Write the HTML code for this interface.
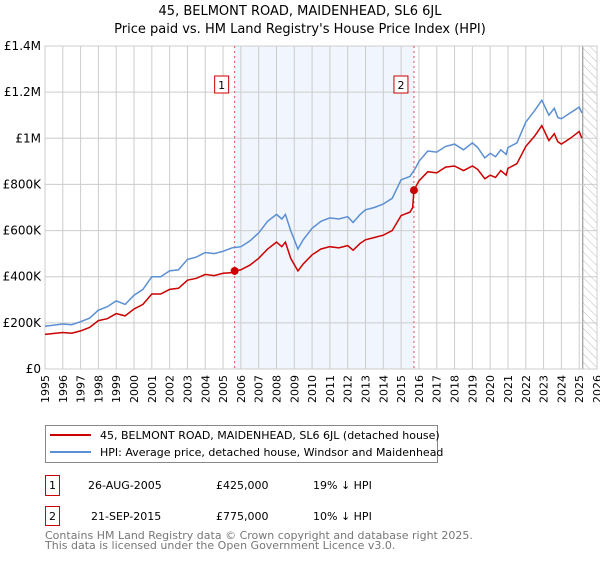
<!DOCTYPE html>
<html><head><meta charset="utf-8"><style>
body{margin:0;background:#fff;font-family:"Liberation Sans","DejaVu Sans",sans-serif;}
svg text{font-family:"DejaVu Sans","Liberation Sans",sans-serif;}
</style></head><body>
<svg id="c" width="600" height="560" viewBox="0 0 600 560">
<defs><pattern id="hatch" width="6" height="6" patternUnits="userSpaceOnUse" patternTransform="rotate(-45)"><line x1="0" y1="0" x2="0" y2="6" stroke="#bbb" stroke-width="1"/></pattern></defs>
<text x="300" y="15" text-anchor="middle" font-size="13">45, BELMONT ROAD, MAIDENHEAD, SL6 6JL</text>
<text x="300" y="33" text-anchor="middle" font-size="13">Price paid vs. HM Land Registry's House Price Index (HPI)</text>
<g id="plot"></g>
<g>
<rect x="45.5" y="425.5" width="392" height="37" fill="#fff" stroke="#888"/>
<line x1="50" y1="435" x2="91" y2="435" stroke="#cc0000" stroke-width="2"/>
<text x="100" y="439" font-size="11">45, BELMONT ROAD, MAIDENHEAD, SL6 6JL (detached house)</text>
<line x1="50" y1="452" x2="91" y2="452" stroke="#5b8fd4" stroke-width="2"/>
<text x="100" y="456" font-size="11">HPI: Average price, detached house, Windsor and Maidenhead</text>
</g>
<g font-size="11">
<rect x="45.5" y="475.5" width="14" height="20" fill="#fff" stroke="#cc0000"/><text x="52.5" y="489" text-anchor="middle">1</text>
<text x="88" y="489">26-AUG-2005</text><text x="216" y="489">£425,000</text><text x="313" y="489">19% ↓ HPI</text>
<rect x="45.5" y="506.5" width="14" height="19" fill="#fff" stroke="#cc0000"/><text x="52.5" y="520" text-anchor="middle">2</text>
<text x="91" y="520">21-SEP-2015</text><text x="216" y="520">£775,000</text><text x="313" y="520">10% ↓ HPI</text>
</g>
<text x="45" y="539" font-size="11" fill="#777">Contains HM Land Registry data © Crown copyright and database right 2025.</text>
<text x="45" y="549" font-size="11" fill="#777">This data is licensed under the Open Government Licence v3.0.</text>
</svg>
<script>
const hpiYears=[1995,1996,1996.5,1997,1997.5,1998,1998.5,1999,1999.5,2000,2000.5,2001,2001.5,2002,2002.5,2003,2003.5,2004,2004.5,2005,2005.5,2006,2006.5,2007,2007.5,2008,2008.3,2008.5,2008.8,2009.2,2009.5,2010,2010.5,2011,2011.5,2012,2012.3,2012.7,2013,2013.5,2014,2014.5,2015,2015.5,2015.8,2016,2016.5,2017,2017.5,2018,2018.5,2019,2019.3,2019.7,2020,2020.3,2020.6,2020.9,2021,2021.5,2022,2022.5,2022.9,2023.3,2023.6,2023.8,2024,2024.5,2025,2025.15];
const hpiValues=[185,195,192,205,220,255,270,295,280,320,345,400,400,425,430,475,485,505,500,510,525,530,555,590,640,670,650,670,600,520,560,610,640,655,650,660,635,670,690,700,715,740,820,835,870,900,945,940,965,975,950,980,960,915,935,920,950,930,960,980,1070,1120,1165,1100,1130,1090,1085,1110,1135,1110];
const propYears=[1995,1996,1996.5,1997,1997.5,1998,1998.5,1999,1999.5,2000,2000.5,2001,2001.5,2002,2002.5,2003,2003.5,2004,2004.5,2005,2005.5,2005.65,2006,2006.5,2007,2007.5,2008,2008.3,2008.5,2008.8,2009.2,2009.5,2010,2010.5,2011,2011.5,2012,2012.3,2012.7,2013,2013.5,2014,2014.5,2015,2015.5,2015.65,2015.72,2016,2016.5,2017,2017.5,2018,2018.5,2019,2019.3,2019.7,2020,2020.3,2020.6,2020.9,2021,2021.5,2022,2022.5,2022.9,2023.3,2023.6,2023.8,2024,2024.5,2025,2025.15];
const propValues=[150,158,155,165,180,210,218,240,230,260,280,325,325,345,350,385,393,410,405,415,418,425,430,450,480,520,550,530,550,480,425,455,495,520,530,525,535,515,545,560,570,580,600,665,680,700,775,815,855,850,875,880,860,880,865,825,840,830,860,840,870,890,965,1010,1055,990,1020,985,975,1000,1030,1000];
const saleYears=[2005.65,2015.72];
const saleValues=[425,775];
const saleLabels=["1","2"];
const yTicks=[0,200,400,600,800,1000,1200,1400];
const yTickLabels=["£0","£200K","£400K","£600K","£800K","£1M","£1.2M","£1.4M"];
const xTicks=[];for(let y=1995;y<=2026;y++)xTicks.push(y);

const X0=45,X1=597,Y0=369,Y1=46;
const sx=v=>X0+(v-1995)/(2026-1995)*(X1-X0);
const sy=v=>Y0-v/1400*(Y0-Y1);
const NS="http://www.w3.org/2000/svg";
const g=document.getElementById('plot');
function mk(t,a,p){const e=document.createElementNS(NS,t);for(const k in a)e.setAttribute(k,a[k]);(p||g).appendChild(e);return e;}

const shade=mk('rect',{x:sx(saleYears[0]),y:Y1,width:sx(saleYears[1])-sx(saleYears[0]),height:Y0-Y1,fill:'#eef3fc',opacity:0.8});


const hat=mk('rect',{x:sx(2025.2),y:Y1,width:X1-sx(2025.2),height:Y0-Y1,fill:'url(#hatch)'});


mk('line',{x1:sx(2025.2),y1:Y1,x2:sx(2025.2),y2:Y0,stroke:'#888'});

xTicks.forEach(v=>{
 const l=mk('line',{x1:sx(v),y1:Y1,x2:sx(v),y2:Y0,stroke:'#ccc'});
 
 
 const t=mk('text',{x:0,y:0,'font-size':11,'text-anchor':'end',transform:`translate(${sx(v)+4},${Y0+6}) rotate(-90)`});
 t.textContent=v;
 
 
});
yTicks.forEach((v,i)=>{
 const l=mk('line',{x1:X0,y1:sy(v),x2:X1,y2:sy(v),stroke:'#ccc'});
 
 
 const t=mk('text',{x:X0-4,y:sy(v)+4,'font-size':12,'text-anchor':'end'});
 t.textContent=yTickLabels[i];
 
 
});
mk('rect',{x:X0,y:Y1,width:X1-X0,height:Y0-Y1,fill:'none',stroke:'#ccc'});

saleYears.forEach((yr,i)=>{
 const l=mk('line',{x1:sx(yr),y1:Y1,x2:sx(yr),y2:Y0,stroke:'#e05050','stroke-dasharray':'2,3'});
 
 
 const r=mk('rect',{x:sx(yr)-20,y:76,width:14,height:17,fill:'#fff',stroke:'#cc0000'});
 
 
 const t=mk('text',{x:sx(yr)-13,y:89,'font-size':11,'text-anchor':'middle'});
 t.textContent=saleLabels[i];
 
 
});

function line(xs,vs,col,name){
 const p=mk('path',{d:xs.map((x,i)=>(i?'L':'M')+sx(x).toFixed(1)+','+sy(vs[i]).toFixed(1)).join(''),fill:'none',stroke:col,'stroke-width':1.5});
 
 
}
line(hpiYears,hpiValues,'#5b8fd4','hpi-line');
line(propYears,propValues,'#cc0000','property-price-line');
saleYears.forEach((yr,i)=>{
 const c=mk('circle',{cx:sx(yr),cy:sy(saleValues[i]),r:4,fill:'#cc0000'});
 
 
});
</script>
</body></html>
